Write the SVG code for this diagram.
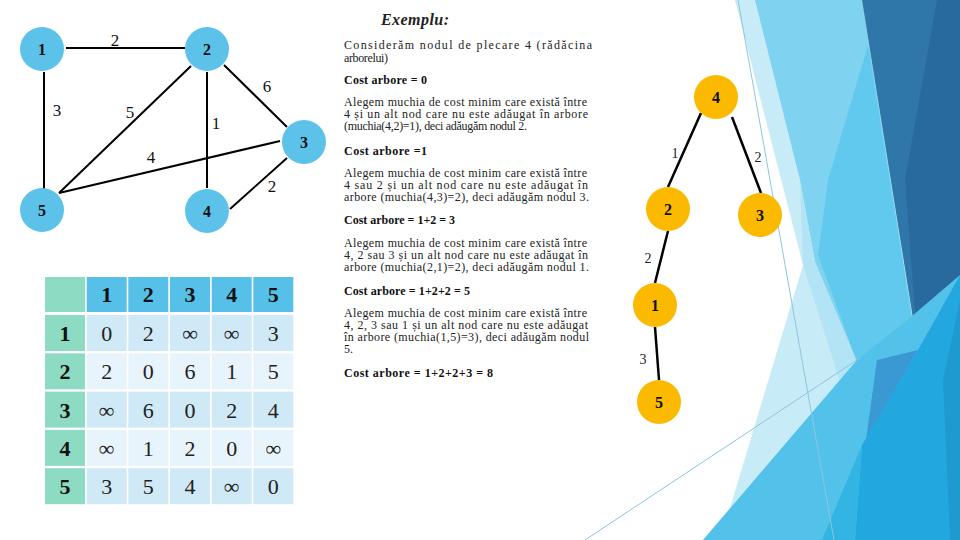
<svg xmlns="http://www.w3.org/2000/svg" width="960" height="540" viewBox="0 0 960 540">
<style>
.gn{fill:#5cc2e9}
.tn{fill:#fbb900}
.nl{font-family:"Liberation Serif",serif;font-weight:bold;font-size:16px;text-anchor:middle;fill:#111}
.el{font-family:"Liberation Serif",serif;font-size:17px;text-anchor:middle;fill:#111}
.tl{font-family:"Liberation Serif",serif;font-size:14px;text-anchor:middle;fill:#222}
.ed{stroke:#000;stroke-width:2;fill:none}
.te{stroke:#000;stroke-width:2.5;fill:none}
.p{font-family:"Liberation Serif",serif;font-size:12px;fill:#222}
.b{font-family:"Liberation Serif",serif;font-size:12px;font-weight:bold;fill:#111}
.th{fill:#57c0e8}
.tg{fill:#8edbc4}
.r1{fill:#d0e9f6}
.r2{fill:#e8f4fb}
.hc{font-family:"Liberation Serif",serif;font-size:22px;font-weight:bold;text-anchor:middle;fill:#111}
.dc{font-family:"Liberation Serif",serif;font-size:22px;text-anchor:middle;fill:#222}
.thin{stroke:#8cc6dc;stroke-width:1;fill:none}
</style>
<rect width="960" height="540" fill="#ffffff"/>
<g id="background">
<polygon points="735,0 960,0 960,540 703,540 730,508 803,265" fill="#c8ebf8"/>
<polygon points="755,0 862,0 918,355 857,362 815,262 800,180" fill="#7fd3f1"/>
<polygon points="800,180 815,262 857,362 840,382 803,265" fill="#b3e4f6"/>
<polygon points="868,45 918,355 857,362 818,255 828,180" fill="#62c9ee"/>
<polygon points="862,0 960,0 960,275 918,350" fill="#2f77a8"/>
<polygon points="937,0 960,0 960,275 918,350 905,180" fill="#28699e"/>
<polygon points="703,540 857,360 905,322 960,275 960,540" fill="#52c2ea"/>
<polygon points="877,360 918,350 866,440" fill="#3a98d3"/>
<polygon points="918,350 960,275 960,540 855,540 862,445" fill="#22a8df"/>
<polygon points="822,540 855,540 862,445" fill="#33b5e4"/>
<polygon points="960,300 960,540 950,540 943,380" fill="#1e9ad0"/>
<line class="thin" x1="738" y1="0" x2="834" y2="540"/>
<line class="thin" x1="585" y1="540" x2="860" y2="358"/>
</g>
<g id="graph-connectors">
<line class="ed" x1="66" y1="48" x2="185" y2="48"/>
<line class="ed" x1="44" y1="72" x2="44" y2="192"/>
<line class="ed" x1="191" y1="66" x2="59" y2="193"/>
<line class="ed" x1="207" y1="72" x2="207" y2="188"/>
<line class="ed" x1="224" y1="65" x2="287" y2="127"/>
<line class="ed" x1="59" y1="193" x2="280" y2="141"/>
<line class="ed" x1="230" y1="209" x2="287" y2="158"/>
<text class="el" x="115" y="46">2</text>
<text class="el" x="57" y="116">3</text>
<text class="el" x="130" y="118">5</text>
<text class="el" x="216" y="129">1</text>
<text class="el" x="267" y="92">6</text>
<text class="el" x="151" y="163">4</text>
<text class="el" x="272" y="192">2</text>
</g>
<g id="g1"><circle class="gn" cx="42" cy="49" r="22"/><text class="nl" x="42" y="55">1</text></g>
<g id="g2"><circle class="gn" cx="207" cy="49" r="22"/><text class="nl" x="207" y="55">2</text></g>
<g id="g3"><circle class="gn" cx="304" cy="142" r="22"/><text class="nl" x="304" y="148">3</text></g>
<g id="g4"><circle class="gn" cx="207" cy="211" r="22"/><text class="nl" x="207" y="217">4</text></g>
<g id="g5"><circle class="gn" cx="42" cy="210" r="22"/><text class="nl" x="42" y="216">5</text></g>
<g id="text">
<text x="381" y="25" font-family="Liberation Serif, serif" font-size="16" font-weight="bold" font-style="italic" fill="#222" textLength="68" lengthAdjust="spacing">Exemplu:</text>
<text class="p" x="344" y="49" textLength="248" lengthAdjust="spacing">Considerăm nodul de plecare 4 (rădăcina</text>
<text class="p" x="344" y="62" textLength="44" lengthAdjust="spacing">arborelui)</text>
<text class="b" x="344" y="84" textLength="83" lengthAdjust="spacing">Cost arbore = 0</text>
<text class="p" x="344" y="106" textLength="243" lengthAdjust="spacing">Alegem muchia de cost minim care există între</text>
<text class="p" x="344" y="118" textLength="244" lengthAdjust="spacing">4 și un alt nod care nu este adăugat în arbore</text>
<text class="p" x="344" y="130" textLength="183" lengthAdjust="spacing">(muchia(4,2)=1), deci adăugăm nodul 2.</text>
<text class="b" x="344" y="155" textLength="83" lengthAdjust="spacing">Cost arbore =1</text>
<text class="p" x="344" y="177" textLength="243" lengthAdjust="spacing">Alegem muchia de cost minim care există între</text>
<text class="p" x="344" y="189" textLength="244" lengthAdjust="spacing">4 sau 2 și un alt nod care nu este adăugat în</text>
<text class="p" x="344" y="201" textLength="245" lengthAdjust="spacing">arbore (muchia(4,3)=2), deci adăugăm nodul 3.</text>
<text class="b" x="344" y="224" textLength="111" lengthAdjust="spacing">Cost arbore = 1+2 = 3</text>
<text class="p" x="344" y="247" textLength="243" lengthAdjust="spacing">Alegem muchia de cost minim care există între</text>
<text class="p" x="344" y="259" textLength="244" lengthAdjust="spacing">4, 2 sau 3 și un alt nod care nu este adăugat în</text>
<text class="p" x="344" y="271" textLength="245" lengthAdjust="spacing">arbore (muchia(2,1)=2), deci adăugăm nodul 1.</text>
<text class="b" x="344" y="295" textLength="126" lengthAdjust="spacing">Cost arbore = 1+2+2 = 5</text>
<text class="p" x="344" y="317" textLength="243" lengthAdjust="spacing">Alegem muchia de cost minim care există între</text>
<text class="p" x="344" y="329" textLength="244" lengthAdjust="spacing">4, 2, 3 sau 1 și un alt nod care nu este adăugat</text>
<text class="p" x="344" y="341" textLength="245" lengthAdjust="spacing">în arbore (muchia(1,5)=3), deci adăugăm nodul</text>
<text class="p" x="344" y="353">5.</text>
<text class="b" x="344" y="377" textLength="149" lengthAdjust="spacing">Cost arbore = 1+2+2+3 = 8</text>
</g>
<g id="tree-connectors">
<line class="te" x1="701" y1="113" x2="668" y2="187"/>
<line class="te" x1="732" y1="117" x2="761" y2="193"/>
<line class="te" x1="668" y1="231" x2="655" y2="283"/>
<line class="te" x1="655" y1="327" x2="659" y2="380"/>
<text class="tl" x="675" y="158">1</text>
<text class="tl" x="758" y="162">2</text>
<text class="tl" x="648" y="263">2</text>
<text class="tl" x="643" y="364">3</text>
</g>
<g id="t4"><circle class="tn" cx="716" cy="97" r="22"/><text class="nl" x="716" y="103">4</text></g>
<g id="t2"><circle class="tn" cx="668" cy="209" r="22"/><text class="nl" x="668" y="215">2</text></g>
<g id="t3"><circle class="tn" cx="760" cy="215" r="22"/><text class="nl" x="760" y="221">3</text></g>
<g id="t1"><circle class="tn" cx="655" cy="305" r="22"/><text class="nl" x="655" y="311">1</text></g>
<g id="t5"><circle class="tn" cx="659" cy="402" r="22"/><text class="nl" x="659" y="408">5</text></g>
<g id="table">
<rect class="tg" x="45" y="277" width="40" height="35"/>
<rect class="th" x="86.7" y="277" width="40" height="35"/>
<rect class="th" x="128.3" y="277" width="40" height="35"/>
<rect class="th" x="170" y="277" width="40" height="35"/>
<rect class="th" x="211.7" y="277" width="40" height="35"/>
<rect class="th" x="253.3" y="277" width="40" height="35"/>
<text class="hc" x="106.7" y="302">1</text>
<text class="hc" x="148.3" y="302">2</text>
<text class="hc" x="190" y="302">3</text>
<text class="hc" x="231.7" y="302">4</text>
<text class="hc" x="273.3" y="302">5</text>
<g>
<rect class="tg" x="45" y="315" width="40" height="36"/>
<rect class="r1" x="86.7" y="315" width="40" height="36"/><rect class="r1" x="128.3" y="315" width="40" height="36"/><rect class="r1" x="170" y="315" width="40" height="36"/><rect class="r1" x="211.7" y="315" width="40" height="36"/><rect class="r1" x="253.3" y="315" width="40" height="36"/>
<text class="hc" x="65" y="341">1</text>
<text class="dc" x="106.7" y="341">0</text><text class="dc" x="148.3" y="341">2</text><text class="dc" x="190" y="341">∞</text><text class="dc" x="231.7" y="341">∞</text><text class="dc" x="273.3" y="341">3</text>
</g>
<g>
<rect class="tg" x="45" y="353.3" width="40" height="36"/>
<rect class="r2" x="86.7" y="353.3" width="40" height="36"/><rect class="r2" x="128.3" y="353.3" width="40" height="36"/><rect class="r2" x="170" y="353.3" width="40" height="36"/><rect class="r2" x="211.7" y="353.3" width="40" height="36"/><rect class="r2" x="253.3" y="353.3" width="40" height="36"/>
<text class="hc" x="65" y="379">2</text>
<text class="dc" x="106.7" y="379">2</text><text class="dc" x="148.3" y="379">0</text><text class="dc" x="190" y="379">6</text><text class="dc" x="231.7" y="379">1</text><text class="dc" x="273.3" y="379">5</text>
</g>
<g>
<rect class="tg" x="45" y="391.6" width="40" height="36"/>
<rect class="r1" x="86.7" y="391.6" width="40" height="36"/><rect class="r1" x="128.3" y="391.6" width="40" height="36"/><rect class="r1" x="170" y="391.6" width="40" height="36"/><rect class="r1" x="211.7" y="391.6" width="40" height="36"/><rect class="r1" x="253.3" y="391.6" width="40" height="36"/>
<text class="hc" x="65" y="417.5">3</text>
<text class="dc" x="106.7" y="417.5">∞</text><text class="dc" x="148.3" y="417.5">6</text><text class="dc" x="190" y="417.5">0</text><text class="dc" x="231.7" y="417.5">2</text><text class="dc" x="273.3" y="417.5">4</text>
</g>
<g>
<rect class="tg" x="45" y="429.9" width="40" height="36"/>
<rect class="r2" x="86.7" y="429.9" width="40" height="36"/><rect class="r2" x="128.3" y="429.9" width="40" height="36"/><rect class="r2" x="170" y="429.9" width="40" height="36"/><rect class="r2" x="211.7" y="429.9" width="40" height="36"/><rect class="r2" x="253.3" y="429.9" width="40" height="36"/>
<text class="hc" x="65" y="456">4</text>
<text class="dc" x="106.7" y="456">∞</text><text class="dc" x="148.3" y="456">1</text><text class="dc" x="190" y="456">2</text><text class="dc" x="231.7" y="456">0</text><text class="dc" x="273.3" y="456">∞</text>
</g>
<g>
<rect class="tg" x="45" y="468.2" width="40" height="36"/>
<rect class="r1" x="86.7" y="468.2" width="40" height="36"/><rect class="r1" x="128.3" y="468.2" width="40" height="36"/><rect class="r1" x="170" y="468.2" width="40" height="36"/><rect class="r1" x="211.7" y="468.2" width="40" height="36"/><rect class="r1" x="253.3" y="468.2" width="40" height="36"/>
<text class="hc" x="65" y="494">5</text>
<text class="dc" x="106.7" y="494">3</text><text class="dc" x="148.3" y="494">5</text><text class="dc" x="190" y="494">4</text><text class="dc" x="231.7" y="494">∞</text><text class="dc" x="273.3" y="494">0</text>
</g>
</g>
</svg>
